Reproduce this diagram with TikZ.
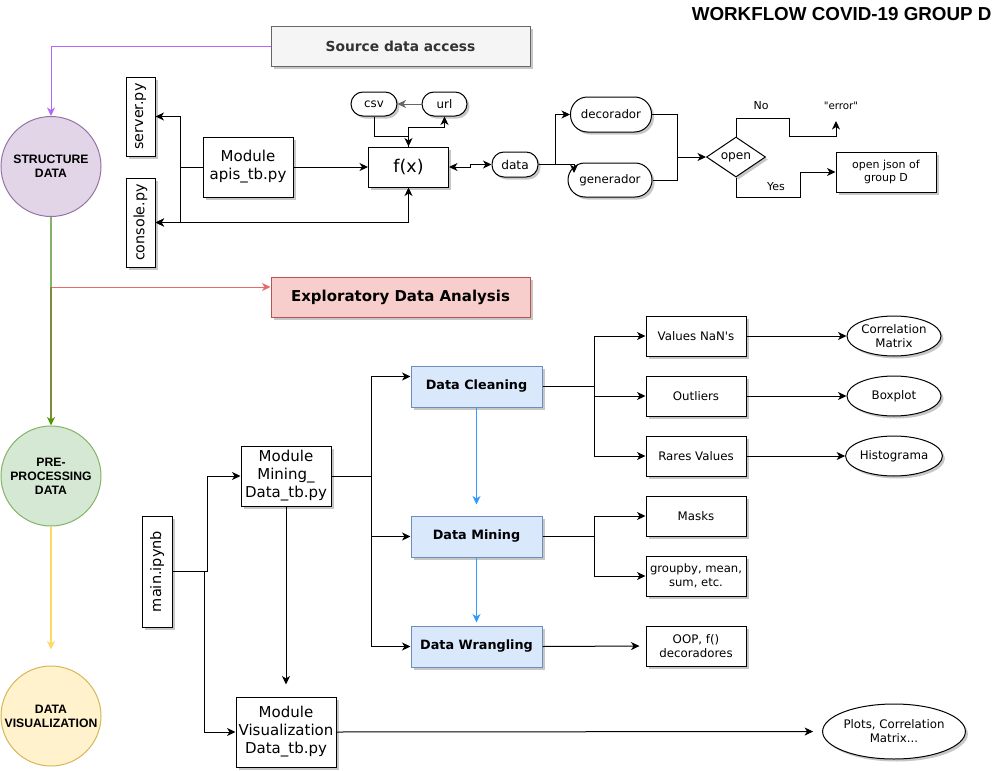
\documentclass[tikz,border=0pt]{standalone}
\usepackage{fontspec}
\newfontfamily\dv{DejaVu Sans}[Ligatures=TeXOff]
\newfontfamily\hv{Liberation Sans}[Ligatures=TeXOff]
\usetikzlibrary{arrows.meta,shapes.geometric,shadows,calc}
\definecolor{cGrayF}{HTML}{F5F5F5}
\definecolor{cGrayD}{HTML}{666666}
\definecolor{cGrayT}{HTML}{333333}
\definecolor{cRedF}{HTML}{F8CECC}
\definecolor{cRedD}{HTML}{B85450}
\definecolor{cRedL}{HTML}{EA6B66}
\definecolor{cPurF}{HTML}{E1D5E7}
\definecolor{cPurD}{HTML}{9673A6}
\definecolor{cPurL}{HTML}{B266FF}
\definecolor{cGreenF}{HTML}{D5E8D4}
\definecolor{cGreenD}{HTML}{82B366}
\definecolor{cGreenL}{HTML}{82B366}
\definecolor{cOlive}{HTML}{7F8A3A}
\definecolor{cGreenA}{HTML}{4D9900}
\definecolor{cYelF}{HTML}{FFF2CC}
\definecolor{cYelD}{HTML}{D6B656}
\definecolor{cYelL}{HTML}{FFD966}
\definecolor{cBlueF}{HTML}{DAE8FC}
\definecolor{cBlueD}{HTML}{6C8EBF}
\definecolor{cBlueL}{HTML}{3399FF}
\tikzset{
  sh/.style={drop shadow={shadow xshift=2.5pt,shadow yshift=-2.5pt,fill=black,opacity=0.22}},
  box/.style={rectangle, draw, fill=white, sh, inner sep=0pt, align=center, line width=1pt,
    font=\dv\fontsize{11.8}{14}\selectfont},
  modbox/.style={box, font=\dv\fontsize{15}{18}\selectfont},
  vbox/.style={box, rotate=90, minimum height=29pt, font=\dv\fontsize{14.5}{17}\selectfont},
  stad/.style={box, rounded corners=#1},
  ell/.style={ellipse, draw, fill=white, sh, inner sep=0pt, align=center, line width=1pt,
    font=\dv\fontsize{11.8}{14}\selectfont},
  circ/.style={circle, draw, minimum size=100pt, inner sep=0pt, align=center, line width=1pt,
    font=\hv\bfseries\fontsize{12.2}{14}\selectfont},
  blu/.style={box, fill=cBlueF, draw=cBlueD, minimum width=131pt, minimum height=41pt,
    font=\dv\bfseries\fontsize{12.8}{15}\selectfont},
  lbl/.style={inner sep=0pt, font=\dv\fontsize{11}{13}\selectfont}
}
\begin{document}
\begin{tikzpicture}[x=1pt,y=-1pt,>={Stealth[length=8.5pt,width=8pt,inset=2.5pt]},line width=1pt]
\useasboundingbox (0,0) rectangle (1002,771);

% title
\node[anchor=east, inner sep=0pt, font=\hv\bfseries\fontsize{18.8}{21}\selectfont] (title) at (992,14) {WORKFLOW COVID-19 GROUP D};

% header boxes
\node[box, fill=cGrayF, draw=cGrayD, text=cGrayT, minimum width=259pt, minimum height=40pt,
  font=\dv\bfseries\fontsize{13.8}{16}\selectfont] (src) at (400.5,46) {Source data access};
\node[box, fill=cRedF, draw=cRedD, minimum width=259pt, minimum height=40pt,
  font=\dv\bfseries\fontsize{15}{17}\selectfont] (eda) at (400.5,297) {Exploratory Data Analysis};

% circles
\node[circ, fill=cPurF, draw=cPurD] (c1) at (51,166.5) {STRUCTURE\\DATA};
\node[circ, fill=cGreenF, draw=cGreenD] (c2) at (51,476) {PRE-\\PROCESSING\\DATA};
\node[circ, fill=cYelF, draw=cYelD] (c3) at (51,716) {DATA\\VISUALIZATION};

\coordinate (split) at (51,287);
\draw[->, cPurL] (src.west) -| (c1.north);
\draw[->, cRedL] (split) -- ([yshift=10pt]eda.west);
\draw[cGreenL, line width=1.2pt] (c1.south) -- (split);
\draw[cOlive, line width=1.2pt, -{Stealth[length=8.5pt,width=8pt,inset=2.5pt,color=cGreenA]}] (split) -- (c2.north);
\draw[->, cYelL, line width=1.2pt, shorten >=16pt] (c2.south) -- (c3.north);

% top section
\node[vbox, minimum width=79pt, font=\dv\fontsize{14.3}{17}\selectfont] (server) at (140.5,116.5) {server.py};
\node[vbox, minimum width=89pt, font=\dv\fontsize{14.3}{17}\selectfont] (console) at (140.5,222.5) {console.py};
\node[modbox, minimum width=90pt, minimum height=60pt] (modapi) at (248,167) {Module\\apis\_tb.py};
\node[box, minimum width=80pt, minimum height=40pt, font=\dv\fontsize{17.5}{20}\selectfont] (fx) at (408.5,167) {f(x)};
\node[stad=12pt, minimum width=46pt, minimum height=24pt, font=\dv\fontsize{11.8}{13}\selectfont] (csv) at (374,104) {csv};
\node[stad=12pt, minimum width=45pt, minimum height=24pt, font=\dv\fontsize{11.8}{13}\selectfont] (url) at (444.5,104) {url};
\node[stad=12pt, minimum width=46pt, minimum height=25pt, font=\dv\fontsize{12.2}{14}\selectfont] (data) at (515,164.5) {data};
\node[stad=17pt, minimum width=81pt, minimum height=35pt] (deco) at (611,114.5) {decorador};
\node[stad=17pt, minimum width=84pt, minimum height=34pt] (gen) at (610,180) {generador};
\node[diamond, draw, fill=white, sh, inner sep=0pt, aspect=1.45, minimum width=59pt, minimum height=40pt,
  font=\dv\fontsize{12.2}{14}\selectfont] (open) at (736,157) {open};
\node[box, minimum width=100pt, minimum height=40pt, font=\dv\fontsize{11}{13}\selectfont] (json) at (886,172) {open json of\\group D};
\node[lbl, font=\dv\fontsize{10.3}{12}\selectfont] (err) at (841,106) {"error"};
\node[lbl] (no) at (761,106) {No};
\node[lbl] (yes) at (776,187) {Yes};
\coordinate (errtip) at (836,121);
\coordinate (gentip) at (574,173);

\draw[->] (modapi.west) -- (180,167) |- (server.south);
\draw[->] (modapi.west) -- (180,167) |- (console.south);
\draw[<->] (fx.south) |- (console.south);
\draw[->] (modapi.east) -- (fx.west);
\draw[->, cGrayD] (url.west) -- (csv.east);
\draw[->] (csv.south) |- (408.5,136) -- (fx.north);
\draw[->] (fx.north) -- (408.5,127) -| (url.south);
\draw[<->] (fx.east) -- (470,167) |- (data.west);
\draw[->] (data.east) -- (555,164.5) |- (deco.west);
\draw[->] (data.east) -| (gentip);
\draw[->] (deco.east) -- (677,114.5) |- (open.west);
\draw (gen.east) -| (677,157);
\draw[->] (open.north) |- (789,118) |- (836,136) -- (errtip);
\draw[->] (open.south) |- (800,197) |- (json.west);

% bottom section
\node[vbox, minimum width=111pt, minimum height=30pt] (main) at (157,571.5) {main.ipynb};
\node[modbox, minimum width=90pt, minimum height=60pt] (modmin) at (286,476) {Module\\Mining\_\\Data\_tb.py};
\node[modbox, minimum width=100pt, minimum height=70pt] (modvis) at (286,732) {Module\\Visualization\\Data\_tb.py};
\node[blu] (clean) at (476.5,386.5) {Data Cleaning};
\node[blu] (dmin) at (476.5,536.5) {Data Mining};
\node[blu] (dwr) at (476.5,646.5) {Data Wrangling};

\node[box, minimum width=100pt, minimum height=40pt] (nan) at (696,336) {Values NaN's};
\node[box, minimum width=100pt, minimum height=40pt] (outl) at (696,396) {Outliers};
\node[box, minimum width=100pt, minimum height=40pt] (rare) at (696,456) {Rares Values};
\node[box, minimum width=100pt, minimum height=40pt] (masks) at (696,516) {Masks};
\node[box, minimum width=100pt, minimum height=40pt, font=\dv\fontsize{11.6}{14}\selectfont] (grp) at (696,576) {groupby, mean,\\sum, etc.};
\node[box, minimum width=100pt, minimum height=40pt] (oop) at (696,646) {OOP, f()\\decoradores};

\node[ell, minimum width=94pt, minimum height=40pt] (corr) at (894,336) {Correlation\\Matrix};
\node[ell, minimum width=94pt, minimum height=40pt] (boxp) at (894,396) {Boxplot};
\node[ell, minimum width=94pt, minimum height=40pt] (hist) at (894,456) {Histograma};
\node[ell, minimum width=130pt, minimum height=55pt] (plots) at (894,731.5) {Plots, Correlation\\Matrix...};

\draw[->] (main.south) -- (207,571.5) |- (modmin.west);
\draw[->] (main.south) -- (204,571.5) |- (modvis.west);
\draw[->, shorten >=12pt] (modmin.south) -- (modvis.north);
\draw[->] (modmin.east) -- (371,476) |- ([yshift=10pt]clean.west);
\draw[->] (modmin.east) -- (371,476) |- (dmin.west);
\draw[->] (modmin.east) -- (371,476) |- (dwr.west);
\draw[->, cBlueL, shorten >=11pt] (clean.south) -- (dmin.north);
\draw[->, cBlueL, shorten >=3pt] (dmin.south) -- (dwr.north);

\draw[->] (clean.east) -- (594,386.5) |- (nan.west);
\draw[->] (clean.east) -- (594,386.5) |- (outl.west);
\draw[->] (clean.east) -- (594,386.5) |- (rare.west);
\draw[->] (dmin.east) -- (594,536.5) |- (masks.west);
\draw[->] (dmin.east) -- (594,536.5) |- (grp.west);
\draw[->, shorten >=6pt] (dwr.east) -- (oop.west);

\draw[->] (nan.east) -- (corr.west);
\draw[->] (outl.east) -- (boxp.west);
\draw[->] (rare.east) -- (hist.west);
\draw[->, shorten >=9pt] (modvis.east) -- (plots.west);
\end{tikzpicture}
\end{document}
